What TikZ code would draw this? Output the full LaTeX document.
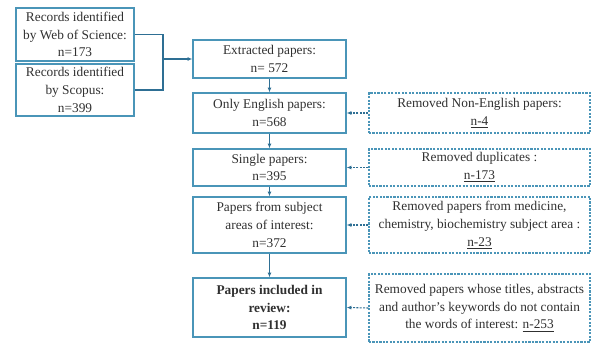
\documentclass[tikz,border=0pt]{standalone}
\usepackage{fontspec}
\setmainfont{Liberation Serif}
\usetikzlibrary{arrows.meta}
\definecolor{boxc}{HTML}{4A95B8}
\definecolor{arrc}{HTML}{2E6F94}
\definecolor{txtc}{HTML}{303030}
\begin{document}
\begin{tikzpicture}[x=0.75pt,y=-0.75pt,
  every node/.style={inner sep=1pt,align=center,text=txtc,font=\fontsize{10pt}{13.3pt}\selectfont},
  solidbox/.style={draw=boxc,line width=1pt,minimum width=#1},
  dashbox/.style={draw=boxc,line width=0.9pt,dash pattern=on 1.6pt off 1pt,minimum width=165.75pt},
  conn/.style={draw=arrc,line width=0.8pt},
  tip/.style={-{Latex[length=3.5pt,width=3pt]}},
  dconn/.style={conn,dash pattern=on 1.5pt off 1pt}]
\useasboundingbox (0,0) rectangle (592,343);
\node[solidbox=88.5pt,minimum height=39.75pt] (wos) at (75,34.5) {Records identified\\by Web of Science:\\n=173};
\node[solidbox=88.5pt,minimum height=39pt] (sco) at (75,90) {Records identified\\by Scopus:\\n=399};
\node[solidbox=114.75pt,minimum height=28.5pt] (ext) at (269.5,59) {Extracted papers:\\n= 572};
\node[solidbox=114.75pt,minimum height=30pt] (eng) at (269.5,113) {Only English papers:\\n=568};
\node[solidbox=114.75pt,minimum height=27.75pt] (sin) at (269.5,167.5) {Single papers:\\n=395};
\node[solidbox=114.75pt,minimum height=42pt] (sub) at (269.5,225) {Papers from subject\\areas of interest:\\n=372};
\node[solidbox=114.75pt,minimum height=44.25pt,font=\fontsize{10pt}{13.3pt}\selectfont\bfseries] (inc) at (269.5,307.5) {Papers included in\\review:\\n=119};
\node[dashbox,minimum height=30pt] (r1) at (479.5,113) {Removed Non-English papers:\\\underline{n-4}};
\node[dashbox,minimum height=27.75pt] (r2) at (479.5,167.5) {Removed duplicates :\\\underline{n-173}};
\node[dashbox,minimum height=42pt] (r3) at (479.5,225) {Removed papers from medicine,\\chemistry, biochemistry subject area :\\\underline{n-23}};
\node[dashbox,minimum height=51pt] (r4) at (479.5,308) {Removed papers whose titles, abstracts\\and author's keywords do not contain\\the words of interest: \underline{n-253}};
\coordinate (j) at (163,59);
\draw[conn] (wos.east) -| (j);
\draw[conn] (sco.east) -| (j);
\draw[conn,tip] (j) -- (ext.west);
\draw[conn,tip] (ext) -- (eng);
\draw[conn,tip] (eng) -- (sin);
\draw[conn,tip] (sin) -- (sub);
\draw[conn,tip] (sub) -- (inc);
\draw[dconn,tip] (r1.west) -- (eng.east);
\draw[dconn,tip] (r2.west) -- (sin.east);
\draw[dconn,tip] (r3.west) -- (sub.east);
\draw[dconn,tip] (r4.west) -- (inc.east);
\end{tikzpicture}
\end{document}
